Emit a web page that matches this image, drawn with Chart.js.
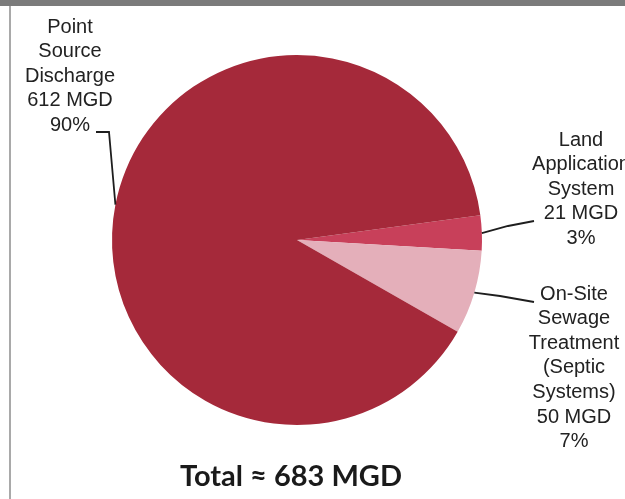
<!DOCTYPE html>
<html>
<head>
<meta charset="utf-8">
<title>Wastewater discharge by method</title>
<script src="https://cdn.jsdelivr.net/npm/chart.js@4.4.1/dist/chart.umd.min.js"></script>
<style>
  html, body { margin: 0; padding: 0; background: #fff; }
  #wrap { position: relative; width: 625px; height: 499px; overflow: hidden; }
  #topBar { position: absolute; left: 0; top: 0; width: 625px; height: 6px; background: #7b7b7b; }
  #sideRule { position: absolute; left: 9px; top: 6px; width: 2px; height: 493px; background: #a9a9a9; }
  canvas { position: absolute; left: 0; top: 0; }
</style>
</head>
<body>
<div id="wrap">
  <canvas id="dischargePie" width="625" height="499"></canvas>
  <div id="topBar"></div>
  <div id="sideRule"></div>
</div>
<script>
// Discharge volumes (million gallons per day)
const categories = ["Land Application System", "On-Site Sewage Treatment (Septic Systems)", "Point Source Discharge"];
const flowsMGD = [21, 50, 612];
const shares = ["3%", "7%", "90%"];
const sliceColors = ["#c8405a", "#e4afba", "#a5293a"];
const totalLabel = "Total \u2248 683 MGD";

// Label text blocks, one per slice
const labelLines = [
  ["Land", "Application", "System", flowsMGD[0] + " MGD", shares[0]],
  ["On-Site", "Sewage", "Treatment", "(Septic", "Systems)", flowsMGD[1] + " MGD", shares[1]],
  ["Point", "Source", "Discharge", flowsMGD[2] + " MGD", shares[2]]
];

// where each text block sits, and the elbow points of its leader line
const labelLayout = [
  { x: 581, y: 140, elbows: [[508, 226], [534, 221]] },
  { x: 574, y: 294, elbows: [[500, 296], [534, 302]] },
  { x: 70,  y: 27,  elbows: [[109, 132], [96, 132]] }
];

const LINE_GAP = 24.6;

const calloutPlugin = {
  id: "callouts",
  afterDatasetsDraw(chart) {
    const ctx = chart.ctx;
    const arcs = chart.getDatasetMeta(0).data;
    ctx.save();

    arcs.forEach((arc, i) => {
      const p = arc.getProps(["x", "y", "startAngle", "endAngle", "outerRadius"], true);
      const mid = (p.startAngle + p.endAngle) / 2;
      const ax = p.x + Math.cos(mid) * p.outerRadius;
      const ay = p.y + Math.sin(mid) * p.outerRadius;
      const lay = labelLayout[i];

      ctx.strokeStyle = "#1e1e1e";
      ctx.lineWidth = 1.8;
      ctx.beginPath();
      ctx.moveTo(ax, ay);
      lay.elbows.forEach(pt => ctx.lineTo(pt[0], pt[1]));
      ctx.stroke();

      ctx.fillStyle = "#222";
      ctx.font = "20px 'Liberation Sans', Arial, sans-serif";
      ctx.textAlign = "center";
      ctx.textBaseline = "middle";
      labelLines[i].forEach((line, k) => {
        ctx.fillText(line, lay.x, lay.y + k * LINE_GAP);
      });
    });

    ctx.font = "bold 29px Lato, 'Open Sans', sans-serif";
    ctx.fillStyle = "#1a1a1a";
    ctx.textAlign = "center";
    ctx.textBaseline = "middle";
    ctx.fillText(totalLabel, 291, 477);
    ctx.restore();
  }
};

new Chart(document.getElementById("dischargePie"), {
  type: "pie",
  data: {
    labels: categories,
    datasets: [{
      data: flowsMGD,
      backgroundColor: sliceColors,
      borderWidth: 0
    }]
  },
  options: {
    responsive: false,
    animation: false,
    rotation: 82.3,
    layout: { padding: { left: 112, right: 143, top: 55, bottom: 74 } },
    plugins: {
      legend: { display: false },
      tooltip: { enabled: false }
    }
  },
  plugins: [calloutPlugin]
});
</script>
</body>
</html>
